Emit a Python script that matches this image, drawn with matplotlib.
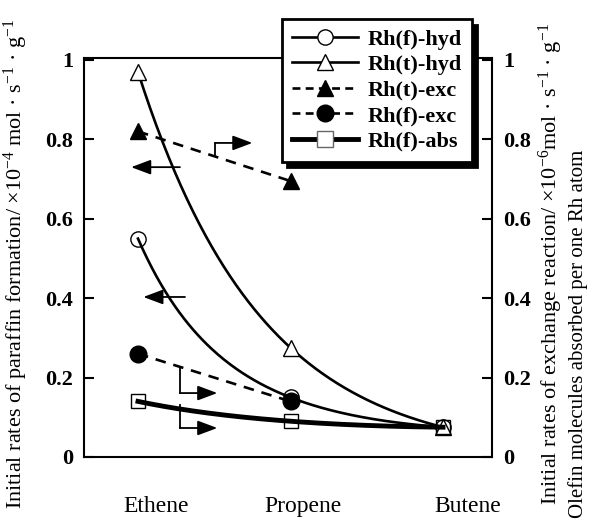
import numpy as np
import matplotlib
matplotlib.use("Agg")
import matplotlib.pyplot as plt

plt.rcParams['font.family'] = ['Liberation Serif', 'DejaVu Serif']
plt.rcParams['mathtext.fontset'] = 'custom'
plt.rcParams['mathtext.rm'] = 'Liberation Serif'
plt.rcParams['mathtext.it'] = 'Liberation Serif:italic'
plt.rcParams['mathtext.bf'] = 'Liberation Serif:bold'

# data
olefins = ["Ethene", "Propene", "Butene"]
rhf_hyd = [0.55, 0.15, 0.075]
rht_hyd = [0.97, 0.275, 0.075]
rht_exc = [0.82, 0.695]
rhf_exc = [0.26, 0.14]
rhf_abs = [0.14, 0.09, 0.075]
yticks = [0, 0.2, 0.4, 0.6, 0.8, 1]
yticklabels = ["0", "0.2", "0.4", "0.6", "0.8", "1"]

x3 = np.arange(len(olefins))
x2 = np.arange(2)

def smooth(x, y):
    # smooth curve through the points (quadratic in log scale)
    c = np.polyfit(x, np.log(y), len(x) - 1)
    xs = np.linspace(x[0], x[-1], 200)
    return xs, np.exp(np.polyval(c, xs))

fig = plt.figure(figsize=(5.97, 5.20), dpi=100)
ax = fig.add_axes([0.1407, 0.1212, 0.6834, 0.7673])

lw = 1.9
ms = 11

xs, ys = smooth(x3, rhf_hyd)
ax.plot(xs, ys, color='k', lw=lw)
ax.plot(x3, rhf_hyd, ls='none', marker='o', ms=ms, mfc='none', mec='k', mew=1.0)

xs, ys = smooth(x3, rht_hyd)
ax.plot(xs, ys, color='k', lw=lw)
ax.plot(x3, rht_hyd, ls='none', marker='^', ms=ms, mfc='white', mec='k', mew=1.0)

ax.plot(x2, rht_exc, color='k', lw=lw, ls=(0, (4, 3)), marker='^', ms=ms, mfc='k', mec='k')
ax.plot(x2, rhf_exc, color='k', lw=lw, ls=(0, (4, 3)), marker='o', ms=ms + 1, mfc='k', mec='k')

xs, ys = smooth(x3, rhf_abs)
ax.plot(xs, ys, color='k', lw=3.5)
ax.plot(x3, rhf_abs, ls='none', marker='s', ms=ms - 1, mfc='none', mec='k', mew=1.0)

# legend handles
h = [
    plt.Line2D([], [], color='k', lw=lw, marker='o', ms=ms, mfc='white', mec='k', mew=1.0),
    plt.Line2D([], [], color='k', lw=lw, marker='^', ms=ms, mfc='white', mec='k', mew=1.0),
    plt.Line2D([], [], color='k', lw=lw, ls=(0, (3, 2)), marker='^', ms=ms, mfc='k', mec='k'),
    plt.Line2D([], [], color='k', lw=lw, ls=(0, (3, 2)), marker='o', ms=ms + 1, mfc='k', mec='k'),
    plt.Line2D([], [], color='k', lw=3.5, marker='s', ms=ms, mfc='white', mec='0.4', mew=1.0),
]
labels = ["Rh(f)-hyd", "Rh(t)-hyd", "Rh(t)-exc", "Rh(f)-exc", "Rh(f)-abs"]
leg = fig.legend(h, labels, loc='upper left', bbox_to_anchor=(0.472, 0.963),
                 bbox_transform=fig.transFigure, borderaxespad=0, fancybox=False,
                 edgecolor='k', framealpha=1, handlelength=3.0, handletextpad=0.4,
                 labelspacing=0.22, borderpad=0.45,
                 shadow={'ox': 4, 'oy': -4, 'color': 'k', 'alpha': 1},
                 prop={'weight': 'bold', 'size': 16})
leg.get_frame().set_linewidth(2)

# arrows pointing to the axis used
aprops = dict(arrowstyle='-|>,head_length=0.8,head_width=0.3', color='k', lw=1.3,
              mutation_scale=15, shrinkA=0, shrinkB=0)
ax.plot([0.505, 0.505], [0.761, 0.791], color='k', lw=1.3)
ax.annotate('', xy=(0.75, 0.791), xytext=(0.505, 0.791), arrowprops=aprops)
ax.annotate('', xy=(-0.045, 0.730), xytext=(0.275, 0.730), arrowprops=aprops)
ax.annotate('', xy=(0.035, 0.403), xytext=(0.308, 0.403), arrowprops=aprops)
ax.plot([0.275, 0.275], [0.224, 0.161], color='k', lw=1.3)
ax.annotate('', xy=(0.52, 0.161), xytext=(0.275, 0.161), arrowprops=aprops)
ax.plot([0.275, 0.275], [0.131, 0.073], color='k', lw=1.3)
ax.annotate('', xy=(0.52, 0.073), xytext=(0.275, 0.073), arrowprops=aprops)

ax.set_xlim(-0.354, 2.321)
ax.set_ylim(0, 1.005)
ax.set_xticks([])
ax.set_yticks(yticks)
ax.set_yticklabels(yticklabels, fontweight='bold', fontsize=16)
ax.tick_params(axis='y', direction='in', length=7, width=1.5, pad=8,
               right=True, labelright=True)
for lab in ax.get_yticklabels(which='both'):
    lab.set_fontweight('bold')
for s in ax.spines.values():
    s.set_linewidth(1.5)

# category names under the axes
cat_off = [0.118, 1.08, 2.16]
for xi, off, name in zip(x3, cat_off, olefins):
    ax.text(off, -0.125, name, transform=ax.get_xaxis_transform(),
            ha='center', va='center', fontsize=17)

fig.text(0.027, 0.022, r"Initial rates of paraffin formation/ ×10$^{-4}$ mol · s$^{-1}$ · g$^{-1}$",
         rotation=90, ha='center', va='bottom', fontsize=16)
fig.text(0.922, 0.028, r"Initial rates of exchange reaction/ ×10$^{-6}$mol · s$^{-1}$ · g$^{-1}$",
         rotation=90, ha='center', va='bottom', fontsize=16)
fig.text(0.968, 0.003, "Olefin molecules absorbed per one Rh atom",
         rotation=90, ha='center', va='bottom', fontsize=15)

fig.savefig("out.png", dpi=100)
